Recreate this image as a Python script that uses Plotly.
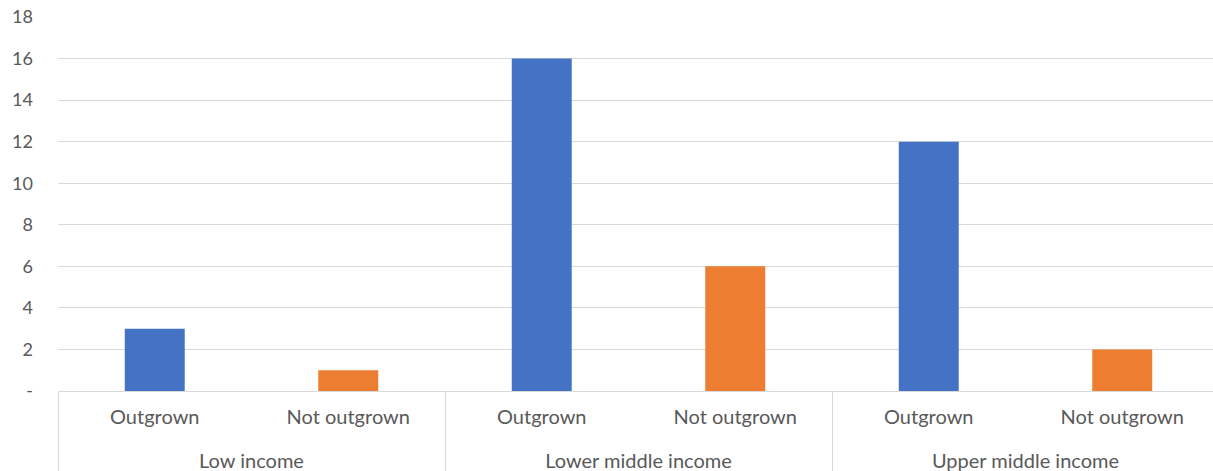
import plotly.graph_objects as go

income_groups = ["Low income", "Low income",
                 "Lower middle income", "Lower middle income",
                 "Upper middle income", "Upper middle income"]
status = ["Outgrown", "Not outgrown", "Outgrown", "Not outgrown", "Outgrown", "Not outgrown"]
counts = [3, 1, 16, 6, 12, 2]

y_tickvals = [0, 2, 4, 6, 8, 10, 12, 14, 16, 18]
y_ticktext = ["-", "2", "4", "6", "8", "10", "12", "14", "16", "18"]

color_map = {"Outgrown": "#4472C4", "Not outgrown": "#ED7D31"}

# extra blank line under the inner labels pushes the group labels lower, like the reference
status_labels = [s + "<br> " for s in status]

fig = go.Figure(
    go.Bar(
        x=[income_groups, status_labels],
        y=counts,
        marker=dict(color=[color_map[s] for s in status], line=dict(width=0)),
        hovertext=status, hoverinfo="y+text",
    )
)

font_family = "Lato, 'Open Sans', sans-serif"
fig.update_layout(
    width=1213, height=471,
    margin=dict(l=58, r=0, t=17, b=80),
    paper_bgcolor="white", plot_bgcolor="white",
    bargap=0.69,
    showlegend=False,
    font=dict(family=font_family, size=18, color="#595959"),
)
fig.update_xaxes(
    type="multicategory",
    range=[-0.5, 5.469],  # the reference's right edge is cropped slightly inside the last category slot
    automargin=False,
    showline=True, linecolor="#D9D9D9", linewidth=1,
    showdividers=True, dividercolor="#D9D9D9", dividerwidth=1,
    ticks="", showgrid=False,
    ticklabelstandoff=8,
    tickfont=dict(family=font_family, size=20, color="#595959"),
)
fig.update_yaxes(
    range=[0, 18],
    automargin=False,
    tickvals=y_tickvals, ticktext=y_ticktext,
    showgrid=True, gridcolor="#D9D9D9", gridwidth=1,
    zeroline=False, showline=False, ticks="",
    ticklabelstandoff=24,
    tickfont=dict(family=font_family, size=18, color="#595959"),
)

fig.write_html("out.html")
